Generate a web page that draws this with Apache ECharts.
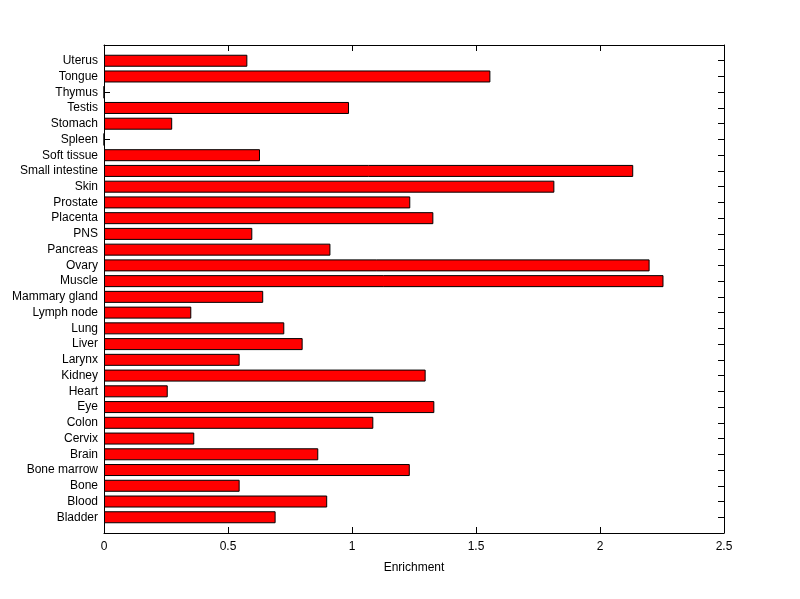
<!DOCTYPE html>
<html>
<head>
<meta charset="utf-8">
<script src="https://cdn.jsdelivr.net/npm/echarts@6/dist/echarts.min.js"></script>
<style>html,body{margin:0;padding:0;background:#fff}#c{width:800px;height:599px}</style>
</head>
<body>
<div id="c"></div>
<script>
const categories = ['Bladder','Blood','Bone','Bone marrow','Brain','Cervix','Colon','Eye','Heart','Kidney','Larynx','Liver','Lung','Lymph node','Mammary gland','Muscle','Ovary','Pancreas','PNS','Placenta','Prostate','Skin','Small intestine','Soft tissue','Spleen','Stomach','Testis','Thymus','Tongue','Uterus'];
const enrichment = [0.692,0.900,0.547,1.233,0.864,0.364,1.086,1.332,0.257,1.297,0.547,0.801,0.727,0.352,0.642,2.256,2.200,0.913,0.598,1.328,1.235,1.816,2.134,0.629,0,0.275,0.988,0,1.558,0.578];
const xTicks = [0,0.5,1,1.5,2,2.5];

// pad with empty slots so the axis runs from 0 to n+1 like the original
const axisCats = [''].concat(categories, ['']);
const axisData = [null].concat(enrichment, [null]);

function font(){ return {fontFamily:'Liberation Sans, Arial, sans-serif', fontSize:12, color:'#000'}; }
function line(){ return {show:true, onZero:false, lineStyle:{color:'#000', width:1}}; }
function tick(extra){ return Object.assign({show:true, inside:true, length:6, lineStyle:{color:'#000', width:1}}, extra||{}); }

const chart = echarts.init(document.getElementById('c'), null, {renderer:'canvas'});
chart.setOption({
  backgroundColor:'#fff',
  animation:false,
  grid:{left:104, right:76, top:45, bottom:66, containLabel:false},
  xAxis:[
    {type:'value', position:'bottom', min:xTicks[0], max:xTicks[xTicks.length-1], interval:0.5,
     name:'Enrichment', nameLocation:'middle', nameGap:29, nameTextStyle:font(),
     axisLine:line(), axisTick:tick(), splitLine:{show:false},
     axisLabel:Object.assign({margin:8}, font())},
    {type:'value', position:'top', min:xTicks[0], max:xTicks[xTicks.length-1], interval:0.5,
     axisLine:line(), axisTick:tick(), splitLine:{show:false}, axisLabel:{show:false}}
  ],
  yAxis:[
    {type:'category', position:'left', data:axisCats, boundaryGap:false,
     axisLine:line(), axisTick:tick({interval:0}),
     axisLabel:Object.assign({interval:0, margin:6}, font())},
    {type:'category', position:'right', data:axisCats, boundaryGap:false,
     axisLine:line(), axisTick:tick({interval:0}),
     axisLabel:{show:false}}
  ],
  series:[{
    type:'bar', xAxisIndex:0, yAxisIndex:0, data:axisData, barWidth:12,
    itemStyle:{color:'#ff0000', borderColor:'#000', borderWidth:1}
  }]
});
</script>
</body>
</html>
